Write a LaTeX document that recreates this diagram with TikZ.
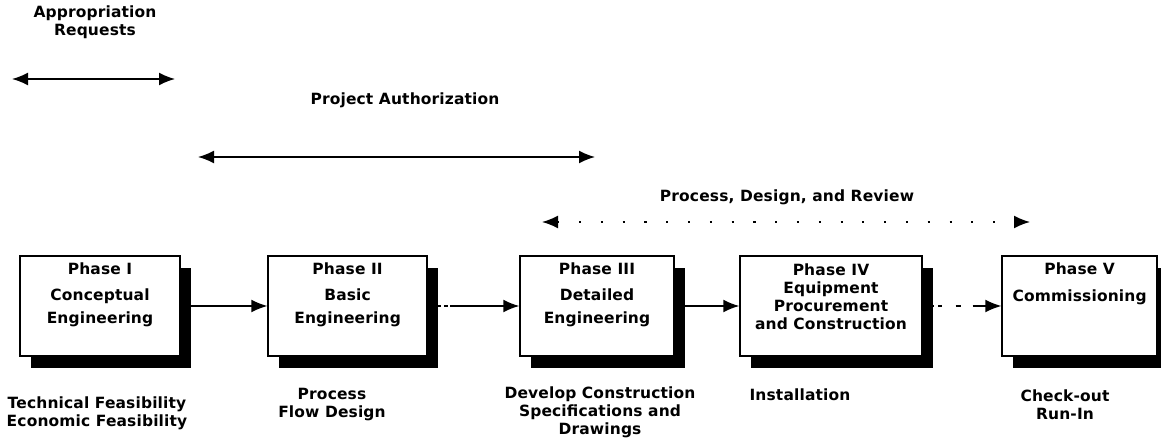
\documentclass[tikz,border=0pt]{standalone}
\usepackage{fontspec}
\setmainfont{DejaVu Sans}[LetterSpace=1]
\usetikzlibrary{arrows.meta,shadows}

\begin{document}
\begin{tikzpicture}[
    >={Latex[length=4mm,width=3.2mm]},
    every node/.style={font=\fontsize{11}{12.8}\selectfont\bfseries, align=center},
    phase/.style={draw, line width=1pt, fill=white, minimum height=2.5cm,
        drop shadow={shadow xshift=0.27cm, shadow yshift=-0.3cm, fill=black, opacity=1}},
    link/.style={->, line width=1pt},
    span/.style={<->, line width=1pt},
]
    \useasboundingbox (0,0) rectangle (29.025,-11.125);

    % Top: the three spans
    \node (appr) at (2.375,-0.55) {Appropriation\\Requests};
    \coordinate (apprL) at (0.3,-1.975);
    \coordinate (apprR) at (4.375,-1.975);
    \draw[span] (apprL) -- (apprR);

    \node (auth) at (10.125,-2.5) {Project Authorization};
    \coordinate (authL) at (4.95,-3.925);
    \coordinate (authR) at (14.875,-3.925);
    \draw[span] (authL) -- (authR);

    \node (review) at (19.675,-4.925) {Process, Design, and Review};
    \coordinate (revL) at (13.55,-5.55);
    \coordinate (revR) at (25.75,-5.55);
    \draw[span, dash pattern=on 1.5pt off 14pt] (revL) -- (revR);

    % Middle: the five phase boxes
    \foreach \n/\x/\w in {1/2.5/4.0, 2/8.69/3.975, 3/14.925/3.85, 4/20.775/4.55, 5/26.99/3.875} {
        \node[phase, minimum width=\w cm] (ph\n) at (\x,-7.65) {};
    }
    \node (ph1t) at (2.5,-7.36) {Phase I\\[5.7pt]Conceptual\\[3.5pt]Engineering};
    \node (ph2t) at (8.69,-7.36) {Phase II\\[5.7pt]Basic\\[3.5pt]Engineering};
    \node (ph3t) at (14.925,-7.36) {Phase III\\[5.7pt]Detailed\\[3.5pt]Engineering};
    \node (ph4t) at (20.775,-7.41) {Phase IV\\Equipment\\Procurement\\and Construction};
    \node (ph5t) at (26.99,-7.09) {Phase V\\[6.4pt]Commissioning};

    \draw[link] (ph1) -- (ph2);
    \draw[link, dash pattern=on 9.5pt off 2pt on 3pt off 1.5pt on 100pt] (ph2) -- (ph3);
    \draw[link] (ph3) -- (ph4);
    \draw[link, dash pattern=on 8pt off 3pt on 2.5pt off 10pt on 4pt off 8pt on 60pt] (ph4) -- (ph5);

    % Bottom: what each phase delivers
    \node (out1) at (2.425,-10.33) {Technical Feasibility\\Economic Feasibility};
    \node (out2) at (8.3,-10.12) {Process\\Flow Design};
    \node (out3) at (15.0,-10.3) {Develop Construction\\Specifications and\\Drawings};
    \node (out4) at (20.0,-9.875) {Installation};
    \node (out5) at (26.625,-10.12) {Check-out\\Run-In};
\end{tikzpicture}
\end{document}
